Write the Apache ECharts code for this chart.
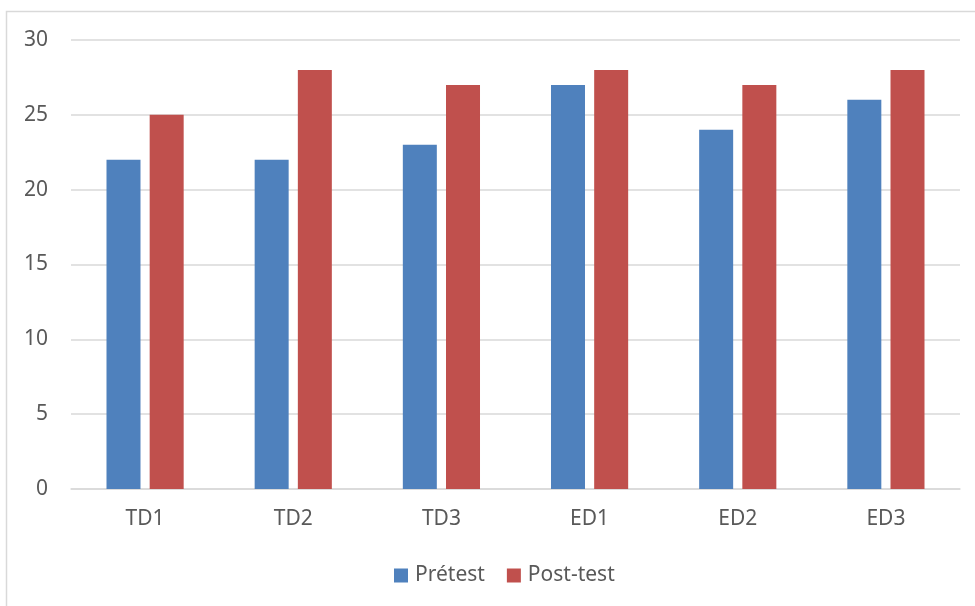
<!DOCTYPE html>
<html>
<head>
<meta charset="utf-8">
<script src="https://cdn.jsdelivr.net/npm/echarts@6/dist/echarts.min.js"></script>
<style>
  html, body { margin: 0; padding: 0; background: #fff; }
  #chart { width: 975px; height: 606px; }
</style>
</head>
<body>
<div id="chart"></div>
<script>
// Groups and scores for each test
const categories = ['TD1', 'TD2', 'TD3', 'ED1', 'ED2', 'ED3'];
const pretest = [22, 22, 23, 27, 24, 26];
const posttest = [25, 28, 27, 28, 27, 28];
const seriesNames = ['Prétest', 'Post-test'];

const textColor = '#595959';
const font = 'Noto Sans, Liberation Sans, sans-serif';

const chart = echarts.init(document.getElementById('chart'), null, { renderer: 'canvas' });
chart.setOption({
  animation: false,
  backgroundColor: '#ffffff',
  textStyle: { fontFamily: font },
  graphic: [{
    type: 'rect',
    shape: { x: 6.5, y: 11.5, width: 1000, height: 1000 },
    style: { fill: 'none', stroke: '#d9d9d9', lineWidth: 1.5 },
    silent: true,
    z: -1
  }],
  grid: { left: 71, right: 15, top: 40, bottom: 117, containLabel: false },
  legend: {
    data: seriesNames,
    bottom: 15,
    left: 389,
    itemWidth: 14,
    itemHeight: 14,
    itemGap: 22,
    icon: 'rect',
    textStyle: { color: textColor, fontSize: 21, fontFamily: font, padding: [0, 0, 0, 2] }
  },
  xAxis: {
    type: 'category',
    data: categories,
    axisLine: { show: true, lineStyle: { color: '#d9d9d9', width: 1.5 } },
    axisTick: { show: false },
    axisLabel: { color: textColor, fontSize: 21, margin: 20, fontFamily: font }
  },
  yAxis: {
    type: 'value',
    min: 0,
    max: 30,
    interval: 5,
    axisLine: { show: false },
    axisTick: { show: false },
    splitLine: { lineStyle: { color: '#d9d9d9', width: 1.5 } },
    axisLabel: { color: textColor, fontSize: 21, margin: 23, fontFamily: font }
  },
  series: [
    {
      name: seriesNames[0],
      type: 'bar',
      data: pretest,
      barWidth: 34,
      barGap: '27%',
      itemStyle: { color: '#4f81bd' }
    },
    {
      name: seriesNames[1],
      type: 'bar',
      data: posttest,
      barWidth: 34,
      barGap: '27%',
      itemStyle: { color: '#c0504d' }
    }
  ]
});
</script>
</body>
</html>
